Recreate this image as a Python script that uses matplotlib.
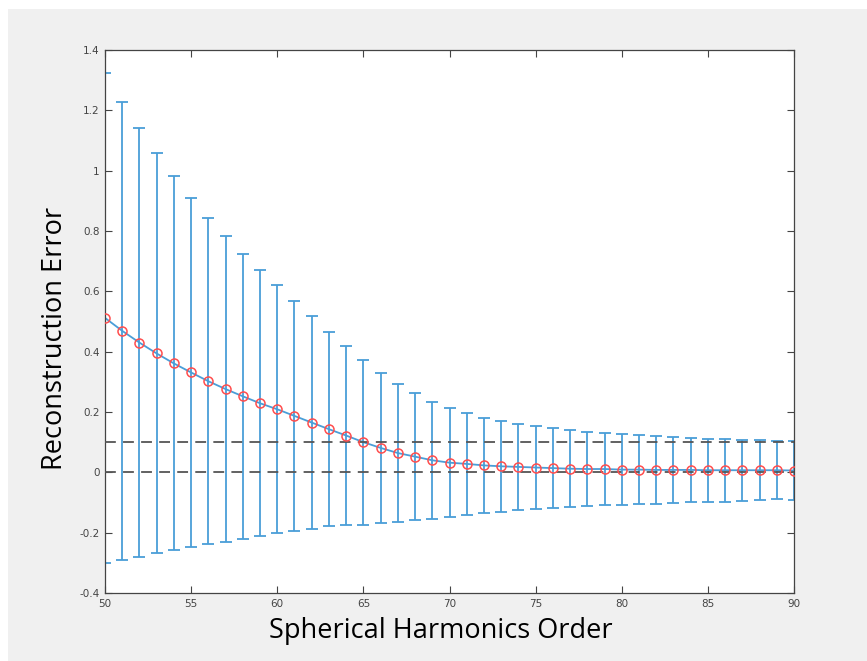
import matplotlib
matplotlib.use('Agg')
import matplotlib.pyplot as plt
from matplotlib.patches import Rectangle
from matplotlib.ticker import FuncFormatter
import numpy as np

# data
order = np.arange(50, 91)
mean_err = [0.512, 0.469, 0.430, 0.394, 0.361, 0.331, 0.302, 0.276, 0.252, 0.229,
            0.209, 0.187, 0.165, 0.143, 0.122, 0.100, 0.081, 0.064, 0.052, 0.040,
            0.032, 0.028, 0.023, 0.020, 0.018, 0.016, 0.014, 0.012, 0.011, 0.011,
            0.009, 0.009, 0.008, 0.008, 0.008, 0.007, 0.007, 0.007, 0.007, 0.007,
            0.006]
std_err = [0.812, 0.759, 0.710, 0.663, 0.620, 0.579, 0.540, 0.506, 0.472, 0.441,
           0.411, 0.380, 0.352, 0.322, 0.298, 0.273, 0.249, 0.230, 0.210, 0.194,
           0.180, 0.169, 0.158, 0.150, 0.143, 0.137, 0.133, 0.128, 0.124, 0.120,
           0.118, 0.115, 0.112, 0.109, 0.106, 0.105, 0.104, 0.101, 0.099, 0.097,
           0.097]
thresholds = [0.0, 0.1]

fig = plt.figure(figsize=(8.67, 6.61), dpi=100, facecolor='white')
# grey figure background (white strip at top/left like the screenshot)
fig.patches.append(Rectangle((8/867, 0), 1, 1 - 9/661, transform=fig.transFigure,
                             facecolor='#f0f0f0', edgecolor='none', zorder=-10))

ax = fig.add_axes([105/867, 68/661, 689/867, 543/661])
ax.set_facecolor('white')

blue = '#4a9ed8'
ax.errorbar(order, mean_err, yerr=std_err, color=blue, linewidth=1.3,
            elinewidth=1.3, capsize=4.5, capthick=1.3, zorder=2)
for t in thresholds:
    ax.axhline(t, color='#555555', linestyle=(0, (6, 4)), linewidth=1.3, zorder=3)
ax.plot(order, mean_err, linestyle='none', marker='o', markersize=6.5,
        markerfacecolor='none', markeredgecolor='#ff4d4d', markeredgewidth=1.1,
        zorder=4)

ax.set_xlim(50, 90)
ax.set_ylim(-0.4, 1.4)
ax.set_xticks(np.arange(50, 91, 5))
ax.set_yticks(np.arange(-0.4, 1.41, 0.2))
ax.yaxis.set_major_formatter(FuncFormatter(lambda v, p: '%g' % round(v, 2)))
ax.tick_params(direction='in', length=5, width=0.8, top=True, right=True,
               colors='#444444', labelsize=7.5, pad=4)
for s in ax.spines.values():
    s.set_color('#444444')
    s.set_linewidth(0.9)

ax.set_xlabel('Spherical Harmonics Order', fontsize=19.5, family='Open Sans',
              labelpad=6)
ax.xaxis.label.set_x(0.488)
ax.set_ylabel('Reconstruction Error', fontsize=19.5, family='Open Sans')
ax.yaxis.set_label_coords(-0.052, 0.469)

fig.savefig('out.png', dpi=100, facecolor=fig.get_facecolor())
